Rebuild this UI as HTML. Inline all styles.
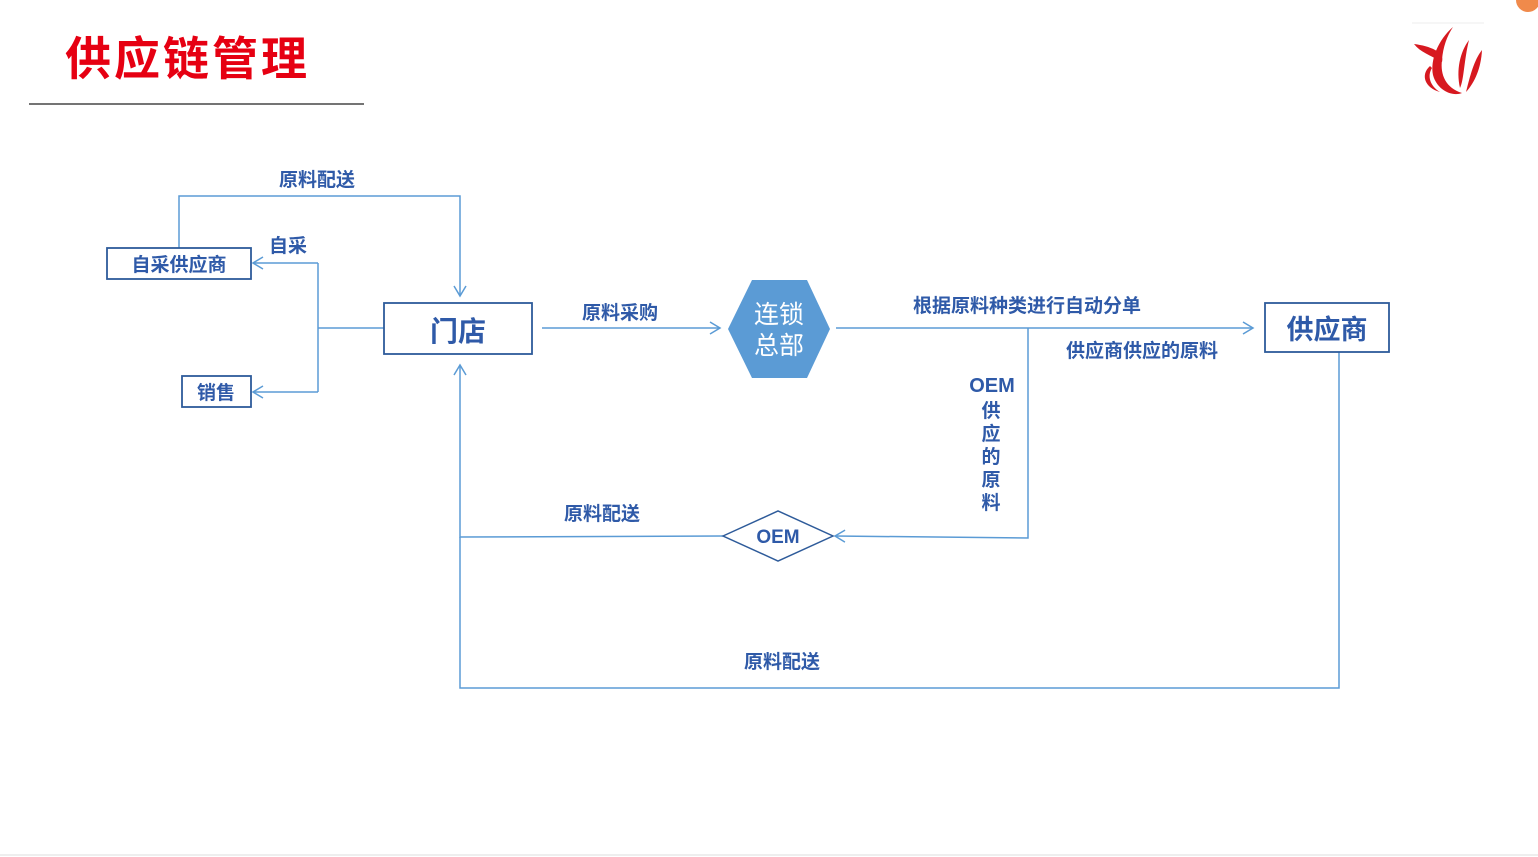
<!DOCTYPE html>
<html><head><meta charset="utf-8"><style>
html,body{margin:0;padding:0;background:#fff;}
svg{display:block;}
text{font-family:"Liberation Sans","Noto Sans CJK SC",sans-serif;}
</style></head><body>
<svg width="1538" height="857" viewBox="0 0 1538 857" xmlns="http://www.w3.org/2000/svg">
<defs>
<marker id="a" markerWidth="14" markerHeight="14" refX="11" refY="7" orient="auto" markerUnits="userSpaceOnUse">
<path d="M1,1 L11,7 L1,13" fill="none" stroke="#5b9bd5" stroke-width="1.5"/>
</marker>
</defs>
<text x="65" y="75" font-size="46" font-weight="bold" fill="#e60012" letter-spacing="3">供应链管理</text>
<line x1="29" y1="104" x2="364" y2="104" stroke="#222" stroke-width="1.2"/>
<line x1="1412" y1="23" x2="1484" y2="23" stroke="#eee"/>
<g fill="#d71920">
<path d="M1414,44 C1430,46 1445,52 1442,62 C1430,55 1420,52 1414,44Z"/>
<path d="M1453,27 C1438,40 1430,60 1433,75 C1437,90 1452,97 1462,93 C1446,88 1440,75 1442,60 C1443,47 1447,36 1453,27Z"/>
<path d="M1469,40 C1460,52 1456,70 1460,88 C1464,80 1464,60 1469,40Z"/>
<path d="M1482,50 C1474,60 1470,76 1466,92 C1475,82 1481,68 1482,50Z"/>
<path d="M1430,66 C1420,75 1425,88 1440,92 C1430,86 1427,76 1432,68Z"/>
</g>
<circle cx="1528" cy="0" r="12" fill="#f08a4b"/>
<g fill="none" stroke="#5b9bd5" stroke-width="1.5">
<polyline points="179,248 179,196 460,196 460,296" marker-end="url(#a)"/>
<line x1="384" y1="328" x2="318" y2="328"/>
<polyline points="318,263 318,392"/>
<line x1="318" y1="263" x2="253" y2="263" marker-end="url(#a)"/>
<line x1="318" y1="392" x2="253" y2="392" marker-end="url(#a)"/>
<line x1="542" y1="328" x2="720" y2="328" marker-end="url(#a)"/>
<line x1="836" y1="328" x2="1253" y2="328" marker-end="url(#a)"/>
<polyline points="1028,328 1028,538 835,536" marker-end="url(#a)"/>
<polyline points="723,536 460,537 460,365" marker-end="url(#a)"/>
<polyline points="1339,352 1339,688 460,688 460,537"/>
</g>
<g fill="#fff" stroke="#2e5b9a" stroke-width="1.8">
<rect x="107" y="248" width="144" height="31"/>
<rect x="182" y="376" width="69" height="31"/>
<rect x="384" y="303" width="148" height="51"/>
<rect x="1265" y="303" width="124" height="49"/>
</g>
<polygon points="752,280 807,280 830,329 807,378 752,378 728,329" fill="#5b9bd5"/>
<polygon points="723,536 778,511 833,536 778,561" fill="#fff" stroke="#2e5b9a" stroke-width="1.5"/>
<g fill="#2f5aa8" font-weight="bold">
<text x="179" y="271" font-size="19" text-anchor="middle">自采供应商</text>
<text x="216" y="399" font-size="19" text-anchor="middle">销售</text>
<text x="458" y="341" font-size="28" text-anchor="middle">门店</text>
<text x="1327" y="339" font-size="27" text-anchor="middle">供应商</text>
<text x="778" y="543" font-size="19" text-anchor="middle">OEM</text>
<text x="317" y="186" font-size="19" text-anchor="middle">原料配送</text>
<text x="288" y="252" font-size="19" text-anchor="middle">自采</text>
<text x="620" y="319" font-size="19" text-anchor="middle">原料采购</text>
<text x="1027" y="312" font-size="19" text-anchor="middle">根据原料种类进行自动分单</text>
<text x="1142" y="357" font-size="19" text-anchor="middle">供应商供应的原料</text>
<text x="602" y="520" font-size="19" text-anchor="middle">原料配送</text>
<text x="782" y="668" font-size="19" text-anchor="middle">原料配送</text>
<text x="992" y="392" font-size="20" text-anchor="middle">OEM</text>
<text x="991" y="417" font-size="19" text-anchor="middle">供</text>
<text x="991" y="440" font-size="19" text-anchor="middle">应</text>
<text x="991" y="463" font-size="19" text-anchor="middle">的</text>
<text x="991" y="486" font-size="19" text-anchor="middle">原</text>
<text x="991" y="509" font-size="19" text-anchor="middle">料</text>
</g>
<text x="779" y="323" font-size="25" fill="#fff" text-anchor="middle">连锁</text>
<text x="779" y="354" font-size="25" fill="#fff" text-anchor="middle">总部</text>
<line x1="0" y1="855" x2="1538" y2="855" stroke="#ddd"/>
</svg>
</body></html>
